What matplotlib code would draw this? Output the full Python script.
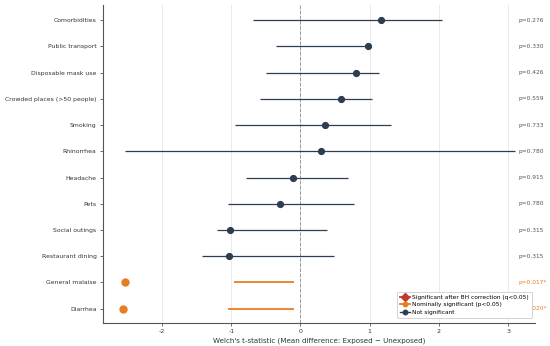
import matplotlib
matplotlib.use("Agg")
import matplotlib.pyplot as plt
from matplotlib.lines import Line2D

factors = ["Comorbidities", "Public transport", "Disposable mask use",
           "Crowded places (>50 people)", "Smoking", "Rhinorrhea", "Headache",
           "Pets", "Social outings", "Restaurant dining", "General malaise", "Diarrhea"]
t_stat = [1.17, 0.98, 0.80, 0.59, 0.35, 0.30, -0.11, -0.29, -1.02, -1.03, -2.54, -2.57]
ci_low = [-0.68, -0.36, -0.50, -0.58, -0.95, -2.54, -0.78, -1.04, -1.20, -1.42, -0.96, -1.05]
ci_high = [2.05, 1.02, 1.14, 1.03, 1.31, 3.10, 0.69, 0.78, 0.39, 0.48, -0.10, -0.10]
p_vals = [0.276, 0.330, 0.426, 0.559, 0.733, 0.780, 0.915, 0.780, 0.315, 0.315, 0.017, 0.020]

NAVY = "#2c3e50"
ORANGE = "#e67e22"
RED = "#c0392b"

fig = plt.figure(figsize=(5.5, 3.46), dpi=100)
ax = fig.add_axes([0.187, 0.066, 0.786, 0.92])

fs = 4.5
for i, (f, t, lo, hi, p) in enumerate(zip(factors, t_stat, ci_low, ci_high, p_vals)):
    if p < 0.05:
        col, lw, ms = ORANGE, 1.3, 5.0
        lab = f"p={p:.3f}*"
    else:
        col, lw, ms = NAVY, 0.9, 4.2
        lab = f"p={p:.3f}"
    ax.plot([lo, hi], [i, i], color=col, lw=lw, zorder=2, solid_capstyle="butt")
    ax.plot([t], [i], marker="o", color=col, ms=ms, zorder=3, linestyle="none")
    ax.text(3.15, i, lab, fontsize=4.25, color=col if p < 0.05 else "#555555",
            va="center", ha="left", zorder=1)

ax.axvline(0, color="#999999", lw=0.7, ls="--", zorder=1)
ax.set_yticks(range(len(factors)))
ax.set_yticklabels(factors, fontsize=4.45, color="#333333")
ax.set_ylim(11.55, -0.58)
ax.set_xlim(-2.855, 3.39)
ax.set_xticks([-2, -1, 0, 1, 2, 3])
ax.set_xticklabels(["-2", "-1", "0", "1", "2", "3"], fontsize=fs, color="#333333")
ax.set_xlabel("Welch's t-statistic (Mean difference: Exposed \u2212 Unexposed)",
              fontsize=5.1, color="#333333", labelpad=2)
ax.grid(axis="x", color="#e6e6e6", lw=0.6, zorder=0)
ax.set_axisbelow(True)
for s in ["top", "right"]:
    ax.spines[s].set_visible(False)
for s in ["left", "bottom"]:
    ax.spines[s].set_color("#555555")
    ax.spines[s].set_linewidth(0.8)
ax.tick_params(axis="both", length=2.5, width=0.6, color="#555555", pad=2)

handles = [
    Line2D([0], [0], color=RED, marker="D", ms=4.2, lw=1.3, label="Significant after BH correction (q<0.05)"),
    Line2D([0], [0], color=ORANGE, marker="o", ms=3.2, lw=1.3, label="Nominally significant (p<0.05)"),
    Line2D([0], [0], color=NAVY, marker="o", ms=3.2, lw=1.0, label="Not significant"),
]
leg = ax.legend(handles=handles, loc="lower right", fontsize=4.25, frameon=True,
                framealpha=1.0, edgecolor="#cccccc", borderpad=0.5, labelspacing=0.38,
                handlelength=1.6, handletextpad=0.5, bbox_to_anchor=(1.0, 0.008))
leg.get_frame().set_linewidth(0.6)
leg.set_zorder(5)

fig.savefig("out.png", dpi=100)
